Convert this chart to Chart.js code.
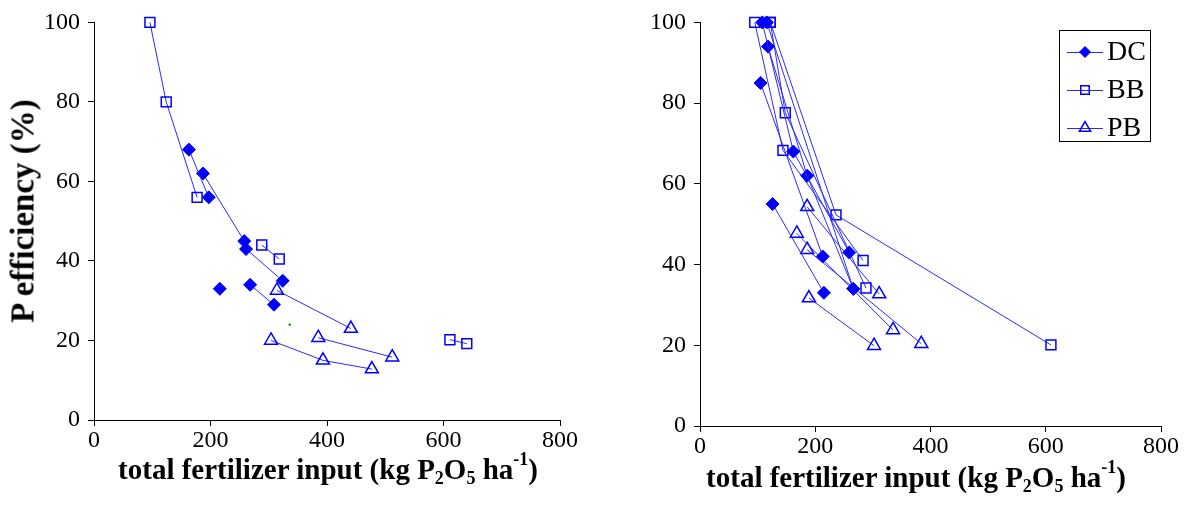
<!DOCTYPE html>
<html>
<head>
<meta charset="utf-8">
<script src="https://cdn.jsdelivr.net/npm/chart.js@4.4.1/dist/chart.umd.min.js"></script>
<style>
  html, body { margin: 0; padding: 0; background: #fff; }
  body { width: 1197px; height: 524px; position: relative; overflow: hidden; }
  .panel { position: absolute; top: 0; height: 524px; }
  .ttl { position: absolute; transform: translate(-50%, -50%); white-space: nowrap;
         font-family: 'Liberation Serif', 'Times New Roman', serif; font-weight: bold; color: #000; }
  .ttl sub, .ttl sup { font-size: 62%; line-height: 0; }
  .ttl sub { vertical-align: -0.3em; }
  .ttl sup { vertical-align: 0.75em; }
  .yttl { transform: translate(-50%, -50%) rotate(-90deg); }
</style>
</head>
<body>
<div class="panel" style="left:0;width:598px"><canvas id="c1" width="598" height="524"></canvas></div>
<div class="panel" style="left:598px;width:599px"><canvas id="c2" width="599" height="524"></canvas></div>
<div class="ttl yttl" style="left:23px;top:211px;font-size:33px">P efficiency (%)</div>
<div class="ttl" style="left:328px;top:469px;font-size:29px">total fertilizer input (kg P<sub>2</sub>O<sub>5</sub> ha<sup>-1</sup>)</div>
<div class="ttl" style="left:916px;top:477px;font-size:29px">total fertilizer input (kg P<sub>2</sub>O<sub>5</sub> ha<sup>-1</sup>)</div>
<script>
// ---------- data (x = total fertilizer input, y = P efficiency %) ----------
const xTicks = [0, 200, 400, 600, 800];
const yTicks = [0, 20, 40, 60, 80, 100];
const seriesNames = ['DC', 'BB', 'PB'];

// left panel: each inner list is one connected line
const dcLeft = [
  [[163, 68], [197, 56]],
  [[187, 62], [258, 45]],
  [[261, 43], [324, 35]],
  [[268, 34], [309, 29]],
  [[216, 33]]
];
const bbLeft = [
  [[96, 100], [124, 80], [177, 56]],
  [[288, 44], [318, 40.5]],
  [[611, 20.2], [640, 19.2]]
];
const pbLeft = [
  [[314, 32.6], [441, 23]],
  [[304, 20], [393, 15], [477, 12.8]],
  [[385, 20.7], [512, 15.8]]
];
const strayLeft = [[336, 24]];

// right panel
const dcRight = [
  [[108, 100], [162, 68], [259, 43]],
  [[118, 94], [186, 62], [266, 34]],
  [[105, 85], [213, 42]],
  [[116, 100], [266, 34]],
  [[126, 55], [215, 33]]
];
const bbRight = [
  [[95, 100], [144, 68.3], [283, 41]],
  [[122, 100], [148, 77.6], [288, 34.2]],
  [[122, 100], [236, 52.3], [609, 20.1]]
];
const pbRight = [
  [[186, 54.3], [311, 32.7]],
  [[168, 47.7], [335, 23.8]],
  [[186, 43.7], [384, 20.4]],
  [[189, 31.7], [302, 19.9]]
];

// ---------- styles ----------
const FONT = "'Liberation Serif', 'Times New Roman', serif";
const BLUE = '#0000ff';
const LINE = '#2a2aff';
const styles = {
  DC: { pointStyle: 'rectRot', pointRadius: 6.5, pointBackgroundColor: BLUE, pointBorderColor: BLUE, pointBorderWidth: 1 },
  BB: { pointStyle: 'rect', pointRadius: 7, pointBackgroundColor: 'rgba(0,0,0,0)', pointBorderColor: BLUE, pointBorderWidth: 1.5 },
  PB: { pointStyle: 'triangle', pointRadius: 7.5, pointBackgroundColor: 'rgba(0,0,0,0)', pointBorderColor: BLUE, pointBorderWidth: 1.5 }
};

function chainsToDatasets(chains, name) {
  return chains.map(ch => Object.assign({
    label: name,
    data: ch.map(p => ({ x: p[0], y: p[1] })),
    showLine: true,
    borderColor: LINE,
    borderWidth: 1,
    tension: 0,
    fill: false,
    clip: false,
    pointHoverRadius: 0
  }, styles[name]));
}

function makeScales(yWidth, xHeight) {
  const tickFont = { family: FONT, size: 24 };
  return {
    x: {
      type: 'linear', min: 0, max: 800,
      afterBuildTicks: s => { s.ticks = xTicks.map(v => ({ value: v })); },
      ticks: { font: tickFont, color: '#000', padding: 0, maxRotation: 0, autoSkip: false },
      grid: { drawOnChartArea: false, color: '#000', tickColor: '#000', tickLength: 6, lineWidth: 1 },
      border: { display: true, color: '#000', width: 1 },
      afterFit: s => { s.height = xHeight; }
    },
    y: {
      type: 'linear', min: 0, max: 100,
      afterBuildTicks: s => { s.ticks = yTicks.map(v => ({ value: v })); },
      ticks: { font: tickFont, color: '#000', padding: 8, autoSkip: false },
      grid: { drawOnChartArea: false, color: '#000', tickColor: '#000', tickLength: 6, lineWidth: 1 },
      border: { display: true, color: '#000', width: 1 },
      afterFit: s => { s.width = yWidth; }
    }
  };
}

const legendPlugin = {
  id: 'boxLegend',
  afterDraw(chart) {
    const ctx = chart.ctx;
    const bx = 461, by = 30, bw = 91, bh = 111;
    ctx.save();
    ctx.strokeStyle = '#000';
    ctx.lineWidth = 1;
    ctx.strokeRect(bx + 0.5, by + 0.5, bw, bh);
    const rows = [52, 90, 128];
    seriesNames.forEach((name, i) => {
      const y = rows[i];
      ctx.strokeStyle = LINE;
      ctx.lineWidth = 1;
      ctx.beginPath();
      ctx.moveTo(469, y + 0.5);
      ctx.lineTo(505, y + 0.5);
      ctx.stroke();
      const st = styles[name];
      ctx.fillStyle = st.pointBackgroundColor;
      ctx.strokeStyle = st.pointBorderColor;
      ctx.lineWidth = st.pointBorderWidth;
      Chart.helpers.drawPoint(ctx, { pointStyle: st.pointStyle, radius: st.pointRadius - 1, borderWidth: st.pointBorderWidth, rotation: 0 }, 487, y);
      ctx.fillStyle = '#000';
      ctx.font = '28px ' + FONT;
      ctx.textBaseline = 'middle';
      ctx.textAlign = 'left';
      ctx.fillText(name, 509, y + 1);
    });
    ctx.restore();
  }
};

const baseOptions = (pad, yW, xH) => ({
  responsive: false,
  animation: false,
  devicePixelRatio: 1,
  layout: { padding: pad },
  plugins: { legend: { display: false }, tooltip: { enabled: false } },
  events: [],
  scales: makeScales(yW, xH)
});

const leftSets = [
  ...chainsToDatasets(dcLeft, 'DC'),
  ...chainsToDatasets(bbLeft, 'BB'),
  ...chainsToDatasets(pbLeft, 'PB'),
  { label: 'stray', data: strayLeft.map(p => ({ x: p[0], y: p[1] })), pointRadius: 1.2,
    pointBackgroundColor: '#008000', pointBorderColor: '#008000', pointBorderWidth: 0, showLine: false, clip: false }
];
new Chart(document.getElementById('c1'), {
  type: 'scatter',
  data: { datasets: leftSets },
  options: baseOptions({ top: 18, right: 38, left: 0, bottom: 0 }, 94, 104)
});

const rightSets = [
  ...chainsToDatasets(dcRight, 'DC'),
  ...chainsToDatasets(bbRight, 'BB'),
  ...chainsToDatasets(pbRight, 'PB')
];
new Chart(document.getElementById('c2'), {
  type: 'scatter',
  data: { datasets: rightSets },
  options: baseOptions({ top: 19, right: 36, left: 0, bottom: 0 }, 102, 98),
  plugins: [legendPlugin]
});
</script>
</body>
</html>
